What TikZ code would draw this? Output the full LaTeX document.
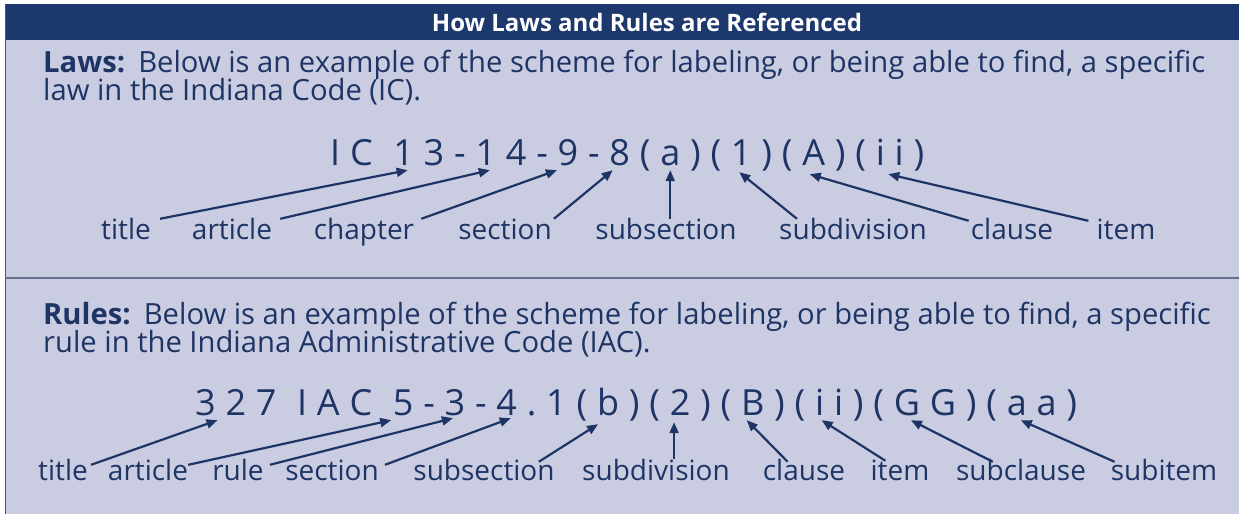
\documentclass[tikz,border=0pt]{standalone}
\usepackage{fontspec}
\setmainfont{Open Sans}
\usetikzlibrary{arrows.meta,calc}
\definecolor{navy}{RGB}{30,52,100}
\definecolor{barblue}{RGB}{28,56,108}
\definecolor{panel}{RGB}{202,205,226}
\definecolor{edge}{RGB}{70,85,120}
\definecolor{rulegrey}{RGB}{100,112,142}
\begin{document}
\begin{tikzpicture}[x=1pt,y=-1pt,
  body/.style={anchor=base west, inner sep=0pt, text=navy, font=\fontsize{29.2}{34}\selectfont},
  headtxt/.style={anchor=base, inner sep=0pt, text=white, font=\fontsize{24}{28}\selectfont\bfseries},
  codech/.style={anchor=base west, inner sep=0pt, text=navy, font=\fontsize{36}{40}\selectfont, text height=26pt, text depth=0pt},
  lab/.style={anchor=base, inner sep=0pt, text=navy, font=\fontsize{28}{32}\selectfont, text height=20pt, text depth=0pt},
  arr/.style={draw=navy, line width=2.2pt, -{Triangle[length=11pt,width=9pt]}},
]
\useasboundingbox (0,0) rectangle (1239,514);
\fill[white] (0,0) rectangle (1239,514);
\fill[panel] (5,4) rectangle (1239,514);
\fill[barblue] (5,4) rectangle (1239,40);
\draw[edge, line width=1.5pt] (5.5,4) -- (5.5,514);
\draw[rulegrey, line width=1.5pt] (5,278) -- (1239,278);

\node[headtxt] (head) at (647,31) {How Laws and Rules are Referenced};

% Laws
\node[body] (lawsA) at (43,72) {\textbf{Laws:}\hspace{0.45em}Below is an example of the scheme for labeling, or being able to find, a specific};
\node[body] (lawsB) at (43,100) {law in the Indiana Code (IC).};

\node[codech] (L1) at (330,165) {I};
\foreach \c [count=\i from 2, remember=\i as \j (initially 1)] in {C,~,1,3,-,1,4,-,9,-,8,{(},a,{)},{(},1,{)},{(},A,{)},{(},i,i,{)}}
  \node[codech] (L\i) at ([xshift=9.4pt]L\j.base east) {\c};

\node[lab] (lt)  at (126,239) {title};
\node[lab] (la)  at (232,239) {article};
\node[lab] (lc)  at (364,239) {chapter};
\node[lab] (ls)  at (505,239) {section};
\node[lab] (lss) at (666,239) {subsection};
\node[lab] (lsd) at (853,239) {subdivision};
\node[lab] (lcl) at (1012,239) {clause};
\node[lab] (lit) at (1126,239) {item};

\draw[arr] ($(lt.north east)+(9,0)$) -- ($(L4.south)+(4,5)$);
\draw[arr] ($(la.north east)+(8,0)$) -- ($(L7.south)+(4,5)$);
\draw[arr] ($(lc.north east)+(7,0)$) -- ($(L10.south)+(-11,5)$);
\draw[arr] ($(ls.north east)+(2,0)$) -- ($(L12.south)+(-7,5)$);
\draw[arr] (L14.south |- lss.north) -- ($(L14.south)+(0,5)$);
\draw[arr] ($(lsd.north west)+(18,0)$) -- ($(L17.south)+(-2,7)$);
\draw[arr] ($(lcl.north west)+(-2,2)$) -- ($(L20.south)+(-4,9)$);
\draw[arr] ($(lit.north west)+(-8,2)$) -- ($(L23.south)+(8,9)$);

% Rules
\node[body] (rulesA) at (43,324) {\textbf{Rules:}\hspace{0.45em}Below is an example of the scheme for labeling, or being able to find, a specific};
\node[body] (rulesB) at (43,352) {rule in the Indiana Administrative Code (IAC).};

\node[codech] (R1) at (195,415) {3};
\foreach \c [count=\i from 2, remember=\i as \j (initially 1)] in {2,7,~,I,A,C,~,5,-,3,-,4,.,1,{(},b,{)},{(},2,{)},{(},B,{)},{(},i,i,{)},{(},G,G,{)},{(},a,a,{)}}
  \node[codech] (R\i) at ([xshift=9.4pt]R\j.base east) {\c};

\node[lab] (rt)  at (63,480) {title};
\node[lab] (ra)  at (148,480) {article};
\node[lab] (rr)  at (238,480) {rule};
\node[lab] (rs)  at (332,480) {section};
\node[lab] (rss) at (484,480) {subsection};
\node[lab] (rsd) at (656,480) {subdivision};
\node[lab] (rcl) at (804,480) {clause};
\node[lab] (rit) at (900,480) {item};
\node[lab] (rsc) at (1021,480) {subclause};
\node[lab] (rsi) at (1164,480) {subitem};

\draw[arr] ($(rt.north east)+(3,5)$) -- ($(R1.south)+(12,5)$);
\draw[arr] ($(ra.north east)+(0,5)$) -- ($(R9.south)+(-12,5)$);
\draw[arr] ($(rr.north east)+(6,5)$) -- ($(R11.south)+(-2,3)$);
\draw[arr] ($(rs.north east)+(6,5)$) -- ($(R13.south)+(4,3)$);
\draw[arr] ($(rss.north east)+(-16,2)$) -- ($(R17.south)+(-10,9)$);
\draw[arr] ($(R20.south |- rsd.north)+(-6,-1)$) -- ($(R20.south)+(-6,7)$);
\draw[arr] ($(rcl.north west)+(25,2)$) -- ($(R23.south)+(-6,5)$);
\draw[arr] ($(rit.north west)+(15,1)$) -- ($(R26.south)+(2,5)$);
\draw[arr] ($(rsc.north west)+(37,2)$) -- ($(R30.south)+(4,5)$);
\draw[arr] ($(rsi.north west)+(4,2)$) -- ($(R34.south)+(4,5)$);
\end{tikzpicture}
\end{document}
